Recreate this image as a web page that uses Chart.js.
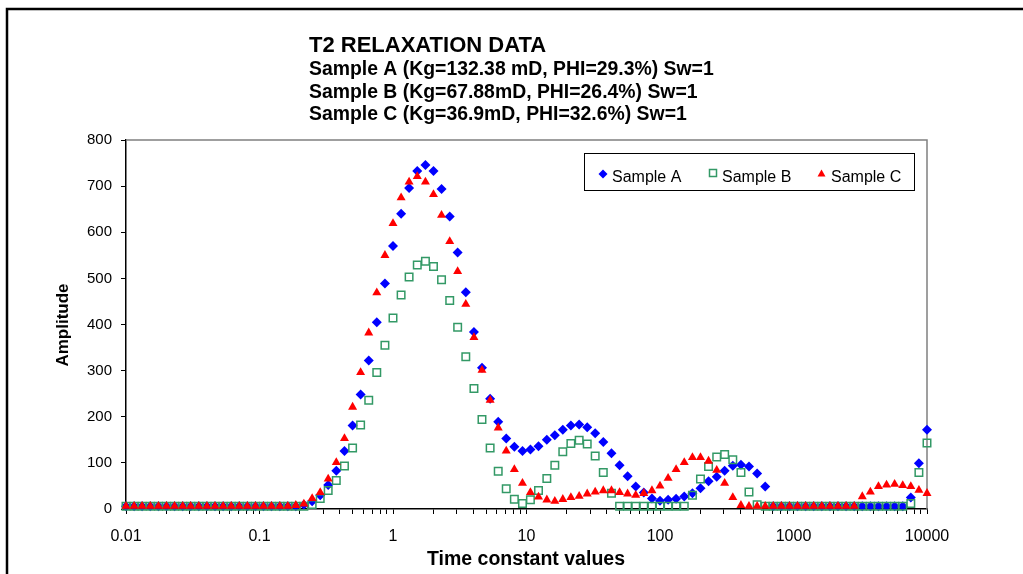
<!DOCTYPE html>
<html>
<head>
<meta charset="utf-8">
<title>T2 Relaxation Data</title>
<script src="https://cdn.jsdelivr.net/npm/chart.js@4.4.0/dist/chart.umd.min.js"></script>
<style>
  html, body { margin: 0; padding: 0; background: #fff; }
  #wrap { position: relative; width: 1023px; height: 574px; }
</style>
</head>
<body>
<div id="wrap"><canvas id="t2chart" width="1023" height="574"></canvas></div>
<script>
// Datos T2 (tiempos en escala log, 100 puntos)
const timeValues = [
  0.01, 0.0115, 0.0132, 0.0152, 0.0175, 0.0201, 0.0231, 0.0266, 0.0305, 0.0351, 0.0404, 0.0464, 0.0534, 0.0614, 0.0705, 0.0811, 0.0933,
  0.107, 0.123, 0.142, 0.163, 0.187, 0.215, 0.248, 0.285, 0.327, 0.376, 0.433, 0.498, 0.572, 0.658, 0.756, 0.870,
  1, 1.15, 1.32, 1.52, 1.75, 2.01, 2.31, 2.66, 3.05, 3.51, 4.04, 4.64, 5.34, 6.14, 7.05, 8.11, 9.33,
  10.7, 12.3, 14.2, 16.3, 18.7, 21.5, 24.8, 28.5, 32.7, 37.6, 43.3, 49.8, 57.2, 65.8, 75.6, 87.0,
  100, 115, 132, 152, 175, 201, 231, 266, 305, 351, 404, 464, 534, 614, 705, 811, 933,
  1072, 1233, 1417, 1630, 1874, 2154, 2477, 2848, 3275, 3765, 4329, 4977, 5722, 6579, 7565, 8697, 10000
];

const sampleA = [
  6, 6, 6, 6, 6, 6, 6, 6, 6, 6, 6, 6, 6, 6, 6, 6, 6, 6, 6, 6, 6, 6,
  9, 17, 30, 52, 83, 126, 181, 248, 322, 405, 489, 570, 640, 696, 733, 746, 733, 694, 634, 556,
  470, 384, 306, 239, 189, 153, 135, 126, 129, 136, 150, 160, 172, 181, 183, 177, 164, 145, 121, 95,
  71, 49, 36, 23, 18, 20, 22, 27, 34, 45, 60, 70, 83, 94, 96, 92, 77, 49,
  6, 6, 6, 6, 6, 6, 6, 6, 6, 6, 6, 6, 6, 6, 6, 6, 6,
  25, 99, 172
];

const sampleB = [
  6, 6, 6, 6, 6, 6, 6, 6, 6, 6, 6, 6, 6, 6, 6, 6, 6, 6, 6, 6, 6, 6,
  6, 10, 23, 40, 62, 93, 132, 182, 236, 296, 355, 414, 464, 503, 529, 537, 526, 497, 452, 394,
  330, 261, 194, 132, 82, 44, 21, 12, 20, 40, 66, 95, 124, 142, 149, 141, 115, 79, 34,
  6, 6, 6, 6, 6, 6, 6, 6, 6,
  30, 65, 92, 113, 118, 107, 79, 37, 9,
  6, 6, 6, 6, 6, 6, 6, 6, 6, 6, 6, 6, 6, 6, 6, 6, 6, 6,
  12, 79, 143
];

const sampleC = [
  6, 6, 6, 6, 6, 6, 6, 6, 6, 6, 6, 6, 6, 6, 6, 6, 6, 6, 6, 6, 6,
  8, 11, 23, 36, 65, 101, 153, 221, 296, 382, 469, 550, 619, 675, 709, 721, 709, 682, 637, 580,
  515, 444, 372, 301, 236, 176, 126, 86, 56, 36, 26, 20, 17, 21, 25, 28, 33, 37, 40, 40,
  36, 33, 30, 34, 40, 50, 67, 86, 101, 112, 112, 104, 84, 56, 25, 8,
  6, 6, 6, 6, 6, 6, 6, 6, 6, 6, 6, 6, 6, 6,
  27, 37, 49, 52, 54, 51, 49, 41, 34
];

const seriesNames = ['Sample A', 'Sample B', 'Sample C'];
const xTickLabels = ['0.01', '0.1', '1', '10', '100', '1000', '10000'];
const titleLines = [
  'T2 RELAXATION DATA',
  'Sample A (Kg=132.38 mD, PHI=29.3%) Sw=1',
  'Sample B (Kg=67.88mD, PHI=26.4%) Sw=1',
  'Sample C (Kg=36.9mD, PHI=32.6%) Sw=1'
];

const BLUE = '#0000ff';
const GREEN = '#339966';
const RED = '#ff0000';
const FONT = '"Liberation Sans", Arial, sans-serif';

function toPoints(values) {
  return values.map((v, i) => ({ x: timeValues[i], y: v }));
}

// marcadores a mano para la leyenda
function drawMarker(ctx, kind, x, y) {
  ctx.save();
  if (kind === 'diamond') {
    ctx.fillStyle = BLUE;
    ctx.beginPath();
    ctx.moveTo(x, y - 4.5); ctx.lineTo(x + 4.5, y); ctx.lineTo(x, y + 4.5); ctx.lineTo(x - 4.5, y);
    ctx.closePath();
    ctx.fill();
  } else if (kind === 'square') {
    ctx.strokeStyle = GREEN;
    ctx.lineWidth = 1.5;
    ctx.strokeRect(x - 3.5, y - 3.5, 7, 7);
  } else {
    ctx.fillStyle = RED;
    ctx.beginPath();
    ctx.moveTo(x, y - 4.5); ctx.lineTo(x + 4, y + 2.5); ctx.lineTo(x - 4, y + 2.5);
    ctx.closePath();
    ctx.fill();
  }
  ctx.restore();
}

const decorPlugin = {
  id: 'decor',
  beforeDatasetsDraw(chart) {
    const { ctx, chartArea: a } = chart;
    ctx.save();
    ctx.strokeStyle = '#808080';
    ctx.lineWidth = 1.5;
    ctx.beginPath();
    ctx.moveTo(a.left, a.top);
    ctx.lineTo(a.right, a.top);
    ctx.lineTo(a.right, a.bottom);
    ctx.stroke();
    ctx.restore();
  },
  afterDraw(chart) {
    const { ctx } = chart;
    ctx.save();
    // marco exterior
    ctx.strokeStyle = '#000';
    ctx.lineWidth = 2.5;
    ctx.beginPath();
    ctx.moveTo(7, 600); ctx.lineTo(7, 9); ctx.lineTo(1030, 9);
    ctx.stroke();

    // titulos
    ctx.fillStyle = '#000';
    ctx.textAlign = 'left';
    ctx.textBaseline = 'alphabetic';
    ctx.font = 'bold 22px ' + FONT;
    ctx.fillText(titleLines[0], 309, 52);
    ctx.font = 'bold 19.4px ' + FONT;
    ctx.fillText(titleLines[1], 309, 75);
    ctx.fillText(titleLines[2], 309, 98);
    ctx.fillText(titleLines[3], 309, 120);

    // titulos de ejes
    ctx.font = 'bold 19.5px ' + FONT;
    ctx.textAlign = 'center';
    ctx.fillText('Time constant values', 526, 565);
    ctx.save();
    ctx.translate(63, 325);
    ctx.rotate(-Math.PI / 2);
    ctx.font = 'bold 17px ' + FONT;
    ctx.textBaseline = 'middle';
    ctx.fillText('Amplitude', 0, 0);
    ctx.restore();

    // leyenda
    ctx.fillStyle = '#fff';
    ctx.fillRect(584.5, 153.5, 330, 37);
    ctx.strokeStyle = '#000';
    ctx.lineWidth = 1;
    ctx.strokeRect(584.5, 153.5, 330, 37);
    ctx.font = '16px ' + FONT;
    ctx.fillStyle = '#000';
    ctx.textAlign = 'left';
    ctx.textBaseline = 'alphabetic';
    drawMarker(ctx, 'diamond', 603, 174);
    ctx.fillText(seriesNames[0], 612, 182);
    drawMarker(ctx, 'square', 713, 173);
    ctx.fillText(seriesNames[1], 722, 182);
    drawMarker(ctx, 'triangle', 821.5, 174);
    ctx.fillText(seriesNames[2], 831, 182);
    ctx.restore();
  }
};

new Chart(document.getElementById('t2chart'), {
  type: 'scatter',
  data: {
    datasets: [
      {
        label: seriesNames[0],
        data: toPoints(sampleA),
        pointStyle: 'rectRot',
        pointRadius: 5,
        backgroundColor: BLUE,
        borderColor: BLUE,
        borderWidth: 0,
        order: 2
      },
      {
        label: seriesNames[1],
        data: toPoints(sampleB),
        pointStyle: 'rect',
        pointRadius: 5.3,
        backgroundColor: 'rgba(0,0,0,0)',
        borderColor: GREEN,
        borderWidth: 1.5,
        order: 1
      },
      {
        label: seriesNames[2],
        data: toPoints(sampleC),
        pointStyle: 'triangle',
        pointRadius: 5.2,
        backgroundColor: RED,
        borderColor: RED,
        borderWidth: 0,
        order: 0
      }
    ]
  },
  options: {
    responsive: false,
    animation: false,
    clip: false,
    layout: { padding: { left: 0, top: 140, right: 96, bottom: 0 } },
    plugins: {
      legend: { display: false },
      tooltip: { enabled: false },
      title: { display: false }
    },
    scales: {
      x: {
        type: 'logarithmic',
        min: 0.01,
        max: 10000,
        afterFit: (s) => { s.height = 65; },
        afterBuildTicks: (s) => {
          const ticks = [];
          xTickLabels.forEach((t, k) => {
            const base = Number(t);
            ticks.push({ value: base, major: true });
            if (k < xTickLabels.length - 1) {
              for (let m = 2; m <= 9; m++) ticks.push({ value: base * m, major: false });
            }
          });
          s.ticks = ticks;
        },
        ticks: {
          autoSkip: false,
          maxRotation: 0,
          padding: 13,
          color: '#000',
          font: { family: FONT, size: 16 },
          callback: (val) => xTickLabels.find(t => Number(t) === val) || ''
        },
        grid: { drawOnChartArea: false, drawTicks: true, tickLength: 5, color: '#000', lineWidth: 1 },
        border: { display: true, color: '#000', width: 1.5 }
      },
      y: {
        min: 0,
        max: 800,
        afterFit: (s) => { s.width = 126; },
        ticks: {
          stepSize: 100,
          padding: 9,
          color: '#000',
          font: { family: FONT, size: 15 }
        },
        grid: { drawOnChartArea: false, drawTicks: true, tickLength: 5, color: '#000', lineWidth: 1 },
        border: { display: true, color: '#000', width: 1.5 }
      }
    }
  },
  plugins: [decorPlugin]
});
</script>
</body>
</html>
